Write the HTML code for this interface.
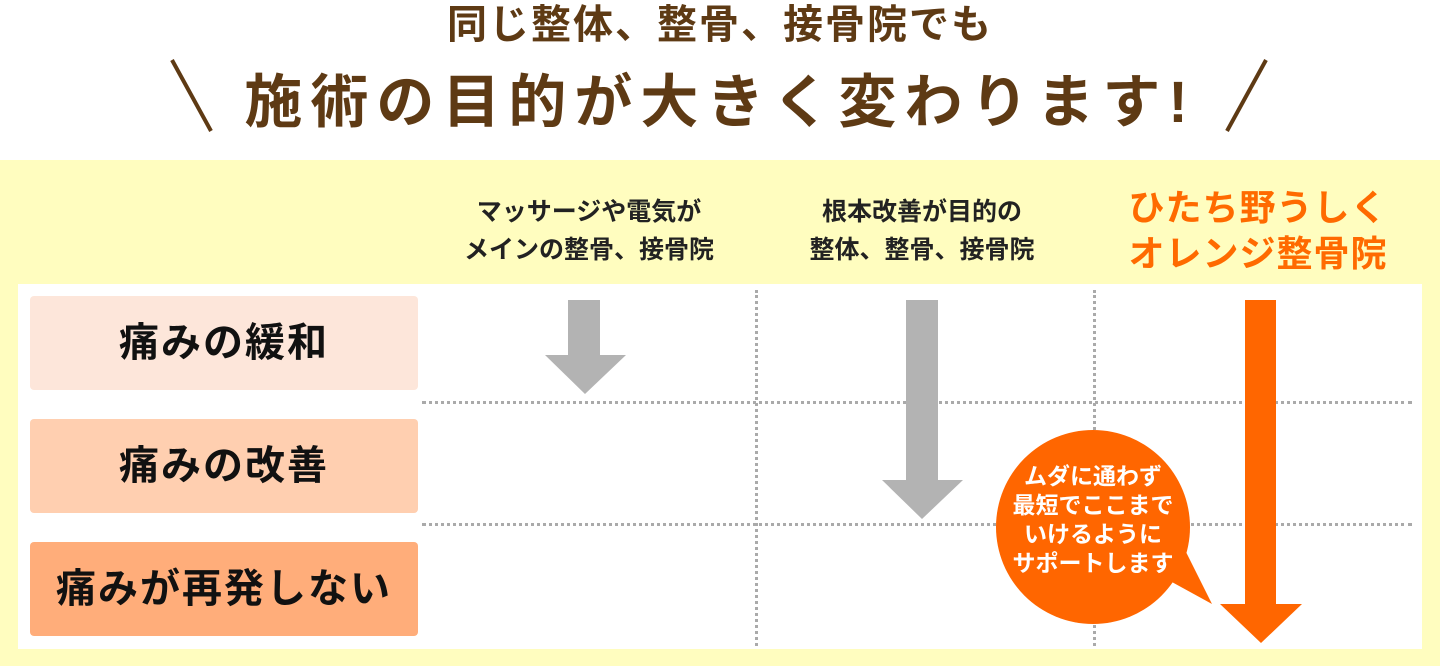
<!DOCTYPE html>
<html><head><meta charset="utf-8"><style>
*{margin:0;padding:0;box-sizing:border-box}
body{width:1440px;height:666px;background:#fff;position:relative;overflow:hidden;font-family:"Liberation Sans","Noto Sans CJK JP",sans-serif;font-weight:bold}
.abs{position:absolute;white-space:nowrap}
.t1{left:0;width:1440px;top:0px;text-align:center;font-size:40px;color:#5e3a14;letter-spacing:2px;line-height:50px}
.t2{left:0;width:1440px;top:68px;text-align:center;font-size:58px;color:#5e3a14;letter-spacing:8px;line-height:70px}
.band{left:0;top:160px;width:1440px;height:506px;background:#fffdbf}
.panel{left:18px;top:284px;width:1404px;height:365px;background:#fff}
.lab{left:30px;width:388px;height:94px;border-radius:4px;font-size:40px;color:#111;text-align:center;line-height:94px;letter-spacing:2px}
.hd{font-size:25px;color:#222;text-align:center;line-height:38px;width:360px}
.hl{border-top:3px dotted #aaa;height:0}
.vl{border-left:3px dotted #aaa;width:0}
.bt{left:980px;top:462px;width:226px;text-align:center;color:#fff;font-size:23px;line-height:29px}
</style></head><body>
<div class="abs t1">同じ整体、整骨、接骨院でも</div>
<div class="abs t2">施術の目的が大きく変わります!</div>
<svg class="abs" style="left:0;top:0" width="1440" height="150"><line x1="172" y1="60" x2="211" y2="131" stroke="#5e3a14" stroke-width="4"/><line x1="1266" y1="60" x2="1227" y2="131" stroke="#5e3a14" stroke-width="4"/></svg>
<div class="abs band"></div>
<div class="abs panel"></div>
<div class="abs hd" style="left:409px;top:193px">マッサージや電気が<br>メインの整骨、接骨院</div>
<div class="abs hd" style="left:742px;top:193px">根本改善が目的の<br>整体、整骨、接骨院</div>
<div class="abs hd" style="left:1078px;top:185px;font-size:36px;line-height:46px;color:#ff6a00;letter-spacing:1px">ひたち野うしく<br>オレンジ整骨院</div>
<div class="abs lab" style="top:296px;background:#fde6da">痛みの緩和</div>
<div class="abs lab" style="top:419px;background:#ffcfb0">痛みの改善</div>
<div class="abs lab" style="top:542px;background:#ffad7a">痛みが再発しない</div>
<div class="abs hl" style="left:422px;top:401px;width:990px"></div>
<div class="abs hl" style="left:422px;top:523px;width:990px"></div>
<div class="abs vl" style="left:755px;top:290px;height:356px"></div>
<div class="abs vl" style="left:1093px;top:290px;height:356px"></div>
<svg class="abs" style="left:0;top:0" width="1440" height="666">
<polygon points="568,300 600,300 600,355 626,355 585,394 545,355 568,355" fill="#b3b3b3"/>
<polygon points="906,300 938,300 938,480 963,480 922,519 882,480 906,480" fill="#b3b3b3"/>
<polygon points="1245,300 1276,300 1276,604 1302,604 1261,643 1220,604 1245,604" fill="#ff6600"/>
<circle cx="1093" cy="527" r="97" fill="#ff6600"/>
<polygon points="1150,570 1212,604 1170,520" fill="#ff6600"/>
</svg>
<div class="abs bt">ムダに通わず<br>最短でここまで<br>いけるように<br>サポートします</div>
</body></html>
